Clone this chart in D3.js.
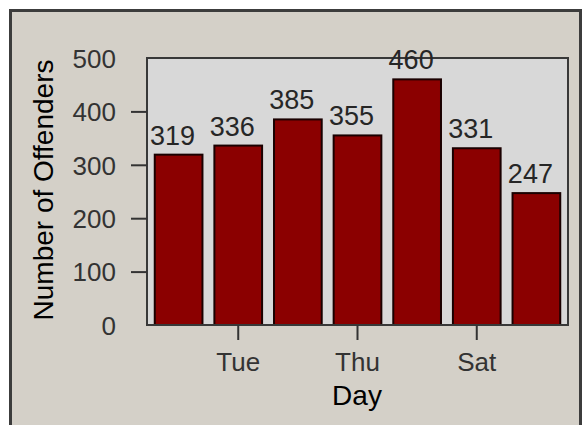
<!DOCTYPE html>
<html>
<head>
<meta charset="utf-8">
<script src="https://cdn.jsdelivr.net/npm/d3@7"></script>
<style>
  body { margin: 0; background: #ffffff; }
  svg { display: block; }
  text { font-family: "Liberation Sans", Arial, sans-serif; }
</style>
</head>
<body>
<script>
// Chart data.
var days = ["Mon", "Tue", "Wed", "Thu", "Fri", "Sat", "Sun"];
var offenders = [319, 336, 385, 355, 460, 331, 247];
var labeledDays = ["Tue", "Thu", "Sat"];
var yTicks = [0, 100, 200, 300, 400, 500];

// Layout.
var width = 582, height = 425;
var plot = {left: 147, top: 58, right: 568, bottom: 325};

var svg = d3.select("body").append("svg")
        .attr("width", width)
        .attr("height", height);

// Window frame.
svg.append("rect")
        .attr("x", 10).attr("y", 10)
        .attr("width", width - 10).attr("height", height - 10)
        .style("fill", "#d4d0c8");
svg.append("path")
        .attr("d", "M10.5," + height + "V10.5H580.5V" + height)
        .style("fill", "none")
        .style("stroke", "#3c3c3c")
        .style("stroke-width", 3);

// Scales.
var x = d3.scaleBand()
        .domain(days)
        .range([plot.left, plot.right])
        .paddingInner(0.2)
        .paddingOuter(0.13);
var y = d3.scaleLinear()
        .domain([0, 500])
        .range([plot.bottom, plot.top]);

// Plot background.
svg.append("rect")
        .attr("x", plot.left).attr("y", plot.top)
        .attr("width", plot.right - plot.left)
        .attr("height", plot.bottom - plot.top)
        .style("fill", "#d8d8d8");

// Bars.
svg.selectAll("rect.bar")
        .data(days)
        .enter().append("rect")
        .attr("class", "bar")
        .attr("x", function(d) { return x(d); })
        .attr("y", function(d, i) { return y(offenders[i]); })
        .attr("width", x.bandwidth())
        .attr("height", function(d, i) { return plot.bottom - y(offenders[i]); })
        .style("fill", "#8b0000")
        .style("stroke", "#1a0000")
        .style("stroke-width", 2);

// Plot frame.
svg.append("rect")
        .attr("x", plot.left).attr("y", plot.top)
        .attr("width", plot.right - plot.left)
        .attr("height", plot.bottom - plot.top)
        .style("fill", "none")
        .style("stroke", "#383838")
        .style("stroke-width", 2);

// Y axis.
var yAxis = svg.append("g")
        .attr("transform", "translate(" + plot.left + ",0)")
        .call(d3.axisLeft(y).tickValues(yTicks).tickSize(16).tickPadding(15));
yAxis.select(".domain").remove();
yAxis.selectAll(".tick line")
        .style("stroke", "#333")
        .style("stroke-width", 2)
        .style("display", function(d) { return (d === 0 || d === 500) ? "none" : null; });
yAxis.selectAll(".tick text")
        .style("font-size", "26px")
        .style("fill", "#333")
        .attr("dy", "0.36em");

// X axis.
var xAxis = svg.append("g")
        .attr("transform", "translate(0," + plot.bottom + ")")
        .call(d3.axisBottom(x).tickValues(labeledDays).tickSize(15).tickPadding(13));
xAxis.select(".domain").remove();
xAxis.selectAll(".tick line")
        .style("stroke", "#333")
        .style("stroke-width", 2);
xAxis.selectAll(".tick text")
        .style("font-size", "26px")
        .style("fill", "#333");

// Value labels.
svg.selectAll("text.value")
        .data(days)
        .enter().append("text")
        .attr("class", "value")
        .attr("x", function(d) { return x(d) + x.bandwidth()/2 - 6; })
        .attr("y", function(d, i) { return y(offenders[i]) - 10; })
        .attr("text-anchor", "middle")
        .style("font-size", "27px")
        .style("fill", "#262626")
        .text(function(d, i) { return offenders[i]; });

// Axis titles.
svg.append("text")
        .attr("x", 357).attr("y", 405)
        .attr("text-anchor", "middle")
        .style("font-size", "28px")
        .style("fill", "#000")
        .text("Day");
svg.append("text")
        .attr("transform", "translate(53,190) rotate(-90)")
        .attr("text-anchor", "middle")
        .style("font-size", "28px")
        .style("fill", "#000")
        .text("Number of Offenders");
</script>
</body>
</html>
